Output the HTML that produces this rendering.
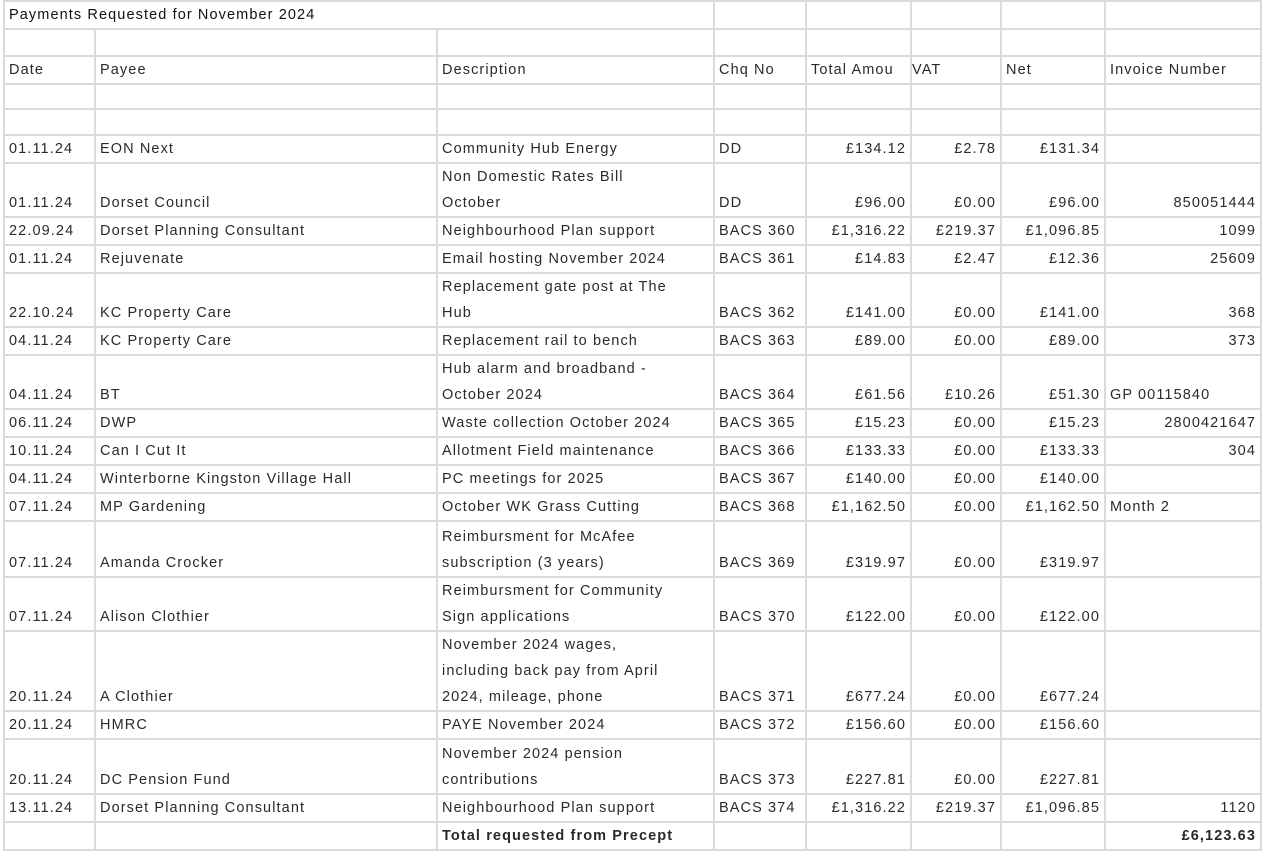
<!DOCTYPE html>
<html><head><meta charset="utf-8">
<style>
html,body{margin:0;padding:0;background:#fff;width:1263px;height:856px;overflow:hidden}
table{position:absolute;left:3px;top:0px;border-collapse:collapse;table-layout:fixed;font-family:"Liberation Sans",sans-serif;font-size:14.5px;letter-spacing:1.1px;color:#2a2a2a}
td{border:2px solid #dadada;padding:0 4px 0 4px;vertical-align:bottom;line-height:26px;white-space:nowrap;overflow:hidden}
td span{position:relative;top:2px}
td.r{text-align:right}
.b{font-weight:bold}
</style></head><body>
<table>
<colgroup><col style="width:91px"><col style="width:342px"><col style="width:277px"><col style="width:92px"><col style="width:105px"><col style="width:90px"><col style="width:104px"><col style="width:156px"></colgroup>
<tr style="height:27px"><td colspan="3" style="color:#111">Payments Requested for November 2024</td><td></td><td></td><td></td><td></td><td></td></tr>
<tr style="height:27px"><td></td><td></td><td></td><td></td><td></td><td></td><td></td><td></td></tr>
<tr style="height:26px"><td>Date</td><td>Payee</td><td>Description</td><td>Chq No</td><td>Total Amou</td><td style="padding-left:0">VAT</td><td>Net</td><td>Invoice Number</td></tr>
<tr style="height:25px"><td></td><td></td><td></td><td></td><td></td><td></td><td></td><td></td></tr>
<tr style="height:26px"><td></td><td></td><td></td><td></td><td></td><td></td><td></td><td></td></tr>
<tr style="height:27px"><td>01.11.24</td><td>EON Next</td><td>Community Hub Energy</td><td>DD</td><td class="r">£134.12</td><td class="r">£2.78</td><td class="r">£131.34</td><td></td></tr>
<tr style="height:53px"><td>01.11.24</td><td>Dorset Council</td><td>Non Domestic Rates Bill<br>October</td><td>DD</td><td class="r">£96.00</td><td class="r">£0.00</td><td class="r">£96.00</td><td class="r">850051444</td></tr>
<tr style="height:27px"><td>22.09.24</td><td>Dorset Planning Consultant</td><td>Neighbourhood Plan support</td><td>BACS 360</td><td class="r">£1,316.22</td><td class="r">£219.37</td><td class="r">£1,096.85</td><td class="r">1099</td></tr>
<tr style="height:27px"><td>01.11.24</td><td>Rejuvenate</td><td>Email hosting November 2024</td><td>BACS 361</td><td class="r">£14.83</td><td class="r">£2.47</td><td class="r">£12.36</td><td class="r">25609</td></tr>
<tr style="height:53px"><td>22.10.24</td><td>KC Property Care</td><td>Replacement gate post at The<br>Hub</td><td>BACS 362</td><td class="r">£141.00</td><td class="r">£0.00</td><td class="r">£141.00</td><td class="r">368</td></tr>
<tr style="height:26px"><td>04.11.24</td><td>KC Property Care</td><td>Replacement rail to bench</td><td>BACS 363</td><td class="r">£89.00</td><td class="r">£0.00</td><td class="r">£89.00</td><td class="r">373</td></tr>
<tr style="height:53px"><td>04.11.24</td><td>BT</td><td>Hub alarm and broadband -<br>October 2024</td><td>BACS 364</td><td class="r">£61.56</td><td class="r">£10.26</td><td class="r">£51.30</td><td>GP 00115840</td></tr>
<tr style="height:27px"><td>06.11.24</td><td>DWP</td><td>Waste collection October 2024</td><td>BACS 365</td><td class="r">£15.23</td><td class="r">£0.00</td><td class="r">£15.23</td><td class="r">2800421647</td></tr>
<tr style="height:27px"><td>10.11.24</td><td>Can I Cut It</td><td>Allotment Field maintenance</td><td>BACS 366</td><td class="r">£133.33</td><td class="r">£0.00</td><td class="r">£133.33</td><td class="r">304</td></tr>
<tr style="height:27px"><td>04.11.24</td><td>Winterborne Kingston Village Hall</td><td>PC meetings for 2025</td><td>BACS 367</td><td class="r">£140.00</td><td class="r">£0.00</td><td class="r">£140.00</td><td></td></tr>
<tr style="height:25px"><td>07.11.24</td><td>MP Gardening</td><td>October WK Grass Cutting</td><td>BACS 368</td><td class="r">£1,162.50</td><td class="r">£0.00</td><td class="r">£1,162.50</td><td>Month 2</td></tr>
<tr style="height:56px"><td>07.11.24</td><td>Amanda Crocker</td><td>Reimbursment for McAfee<br>subscription (3 years)</td><td>BACS 369</td><td class="r">£319.97</td><td class="r">£0.00</td><td class="r">£319.97</td><td></td></tr>
<tr style="height:52px"><td>07.11.24</td><td>Alison Clothier</td><td>Reimbursment for Community<br>Sign applications</td><td>BACS 370</td><td class="r">£122.00</td><td class="r">£0.00</td><td class="r">£122.00</td><td></td></tr>
<tr style="height:79px"><td>20.11.24</td><td>A Clothier</td><td>November 2024 wages,<br>including back pay from April<br>2024, mileage, phone</td><td>BACS 371</td><td class="r">£677.24</td><td class="r">£0.00</td><td class="r">£677.24</td><td></td></tr>
<tr style="height:27px"><td>20.11.24</td><td>HMRC</td><td>PAYE November 2024</td><td>BACS 372</td><td class="r">£156.60</td><td class="r">£0.00</td><td class="r">£156.60</td><td></td></tr>
<tr style="height:55px"><td>20.11.24</td><td>DC Pension Fund</td><td>November 2024 pension<br>contributions</td><td>BACS 373</td><td class="r">£227.81</td><td class="r">£0.00</td><td class="r">£227.81</td><td></td></tr>
<tr style="height:27px"><td>13.11.24</td><td>Dorset Planning Consultant</td><td>Neighbourhood Plan support</td><td>BACS 374</td><td class="r">£1,316.22</td><td class="r">£219.37</td><td class="r">£1,096.85</td><td class="r">1120</td></tr>
<tr style="height:26px"><td></td><td></td><td class="b">Total requested from Precept</td><td></td><td></td><td></td><td></td><td class="r b">£6,123.63</td></tr>
</table>
</body></html>
